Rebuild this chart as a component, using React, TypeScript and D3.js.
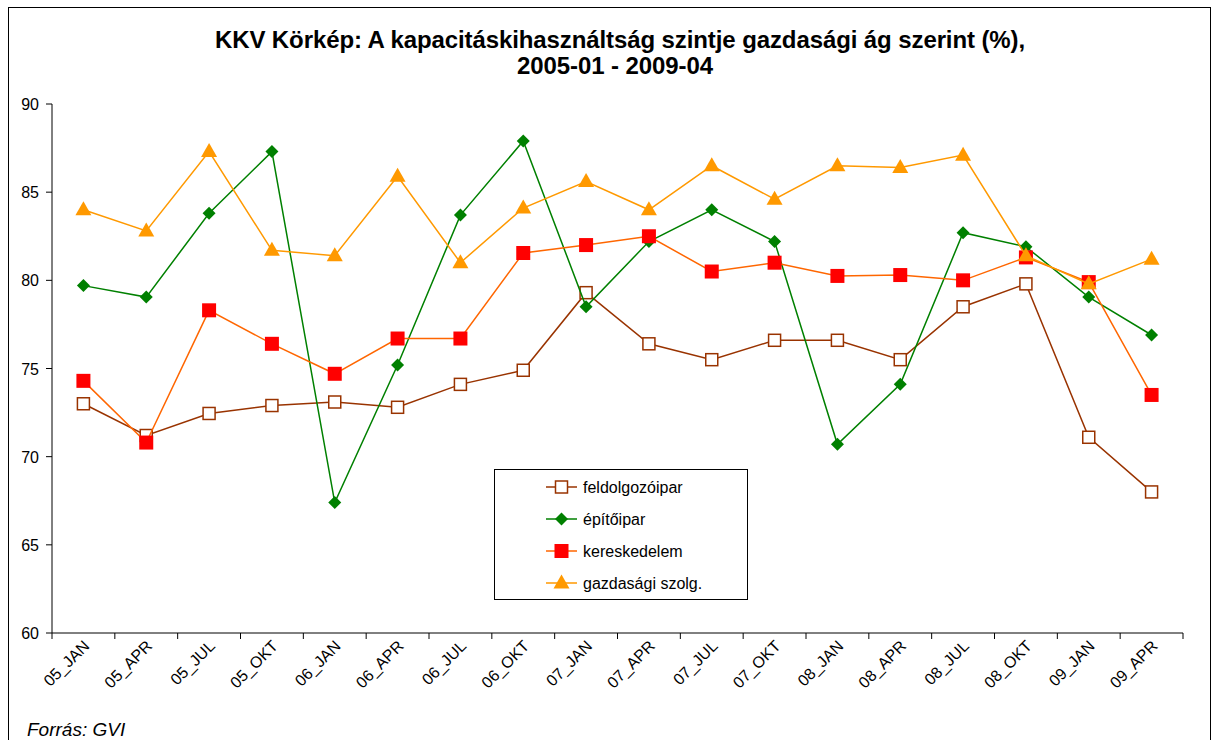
import React from "react";
import * as d3 from "d3";

const categories = ["05_JAN","05_APR","05_JUL","05_OKT","06_JAN","06_APR","06_JUL","06_OKT","07_JAN","07_APR","07_JUL","07_OKT","08_JAN","08_APR","08_JUL","08_OKT","09_JAN","09_APR"];
const feldolgozoipar = [73.0,71.2,72.45,72.9,73.1,72.8,74.1,74.9,79.3,76.4,75.5,76.6,76.6,75.5,78.5,79.8,71.1,68.0];
const epitoipar = [79.7,79.05,83.8,87.3,67.4,75.2,83.7,87.9,78.5,82.2,84.0,82.2,70.7,74.1,82.7,81.9,79.05,76.9];
const kereskedelem = [74.3,70.8,78.3,76.4,74.7,76.7,76.7,81.55,82.0,82.5,80.5,81.0,80.25,80.3,80.0,81.3,79.9,73.5];
const gazdasagi = [84.0,82.8,87.3,81.7,81.4,85.9,81.0,84.1,85.6,84.0,86.5,84.6,86.5,86.4,87.1,81.4,79.8,81.2];
const yTicks = [60,65,70,75,80,85,90];

const series = [
  { name: "feldolgozóipar", values: feldolgozoipar, color: "#993300", marker: "openSquare" },
  { name: "építőipar", values: epitoipar, color: "#008000", marker: "diamond" },
  { name: "kereskedelem", values: kereskedelem, color: "#FF6600", marker: "square", fill: "#FF0000" },
  { name: "gazdasági szolg.", values: gazdasagi, color: "#FF9900", marker: "triangle" },
];

const FONT = "'Liberation Sans', Arial, sans-serif";

function Marker({ type, x, y, color, fill }: any) {
  if (type === "openSquare") return <rect x={x - 6} y={y - 6} width={12} height={12} fill="#fff" stroke={color} strokeWidth={1.5} />;
  if (type === "square") return <rect x={x - 7} y={y - 7} width={14} height={14} fill={fill} />;
  if (type === "diamond") return <path d={`M${x},${y - 6.5}L${x + 6.5},${y}L${x},${y + 6.5}L${x - 6.5},${y}Z`} fill={color} />;
  return <path d={`M${x},${y - 8.5}L${x + 8},${y + 5.5}L${x - 8},${y + 5.5}Z`} fill={color} />;
}

export default function App() {
  const W = 1212, H = 740;
  const left = 52, right = 1183, top = 104, bottom = 633;
  const x = d3.scaleBand().domain(categories).range([left, right]);
  const y = d3.scaleLinear().domain([60, 90]).range([bottom, top]);
  const cx = (c: string) => (x(c) as number) + x.bandwidth() / 2;
  const line = d3.line<number>().x((_, i) => cx(categories[i])).y((v) => y(v));
  const tickXs = categories.map((c) => x(c) as number).concat([right]);

  return (
    <svg width={W} height={H} style={{ position: "absolute", left: 0, top: 0 }} fontFamily={FONT}>
      <rect x={0} y={0} width={W} height={H} fill="#fff" />
      <rect x={8.5} y={7.5} width={1202} height={740} fill="#fff" stroke="#000" strokeWidth={1} />
      <text x={620} y={48} textAnchor="middle" fontSize={24} fontWeight="bold" letterSpacing={-0.1}>KKV Körkép: A kapacitáskihasználtság szintje gazdasági ág szerint (%),</text>
      <text x={615} y={74} textAnchor="middle" fontSize={24} fontWeight="bold" letterSpacing={-0.1}>2005-01 - 2009-04</text>

      {/* y axis */}
      <line x1={left} x2={left} y1={top} y2={bottom} stroke="#000" />
      {yTicks.map((t) => (
        <g key={t}>
          <line x1={left - 6} x2={left} y1={y(t)} y2={y(t)} stroke="#000" />
          <text x={39} y={y(t) + 6} textAnchor="end" fontSize={16}>{t}</text>
        </g>
      ))}
      {/* x axis */}
      <line x1={left} x2={right} y1={bottom} y2={bottom} stroke="#000" />
      {tickXs.map((t, i) => (
        <line key={i} x1={t} x2={t} y1={bottom} y2={bottom + 6} stroke="#000" />
      ))}
      {categories.map((c) => (
        <text key={c} transform={`translate(${cx(c) + 7},${bottom + 14}) rotate(-45)`} textAnchor="end" fontSize={16}>{c}</text>
      ))}

      {series.map((s) => (
        <g key={s.name}>
          <path d={line(s.values) as string} fill="none" stroke={s.color} strokeWidth={1.5} />
          {s.values.map((v, i) => (
            <Marker key={i} type={s.marker} x={cx(categories[i])} y={y(v)} color={s.color} fill={s.fill} />
          ))}
        </g>
      ))}

      {/* legend */}
      <rect x={494.5} y={469.5} width={253} height={130} fill="#fff" stroke="#000" />
      {series.map((s, i) => {
        const ly = 487 + i * 32;
        return (
          <g key={s.name}>
            <line x1={546} x2={577} y1={ly} y2={ly} stroke={s.color} strokeWidth={1.5} />
            <Marker type={s.marker} x={561.5} y={ly} color={s.color} fill={s.fill} />
            <text x={583} y={ly + 6} fontSize={16}>{s.name}</text>
          </g>
        );
      })}

      <text x={27} y={736} fontSize={19} fontStyle="italic">Forrás: GVI</text>
    </svg>
  );
}
